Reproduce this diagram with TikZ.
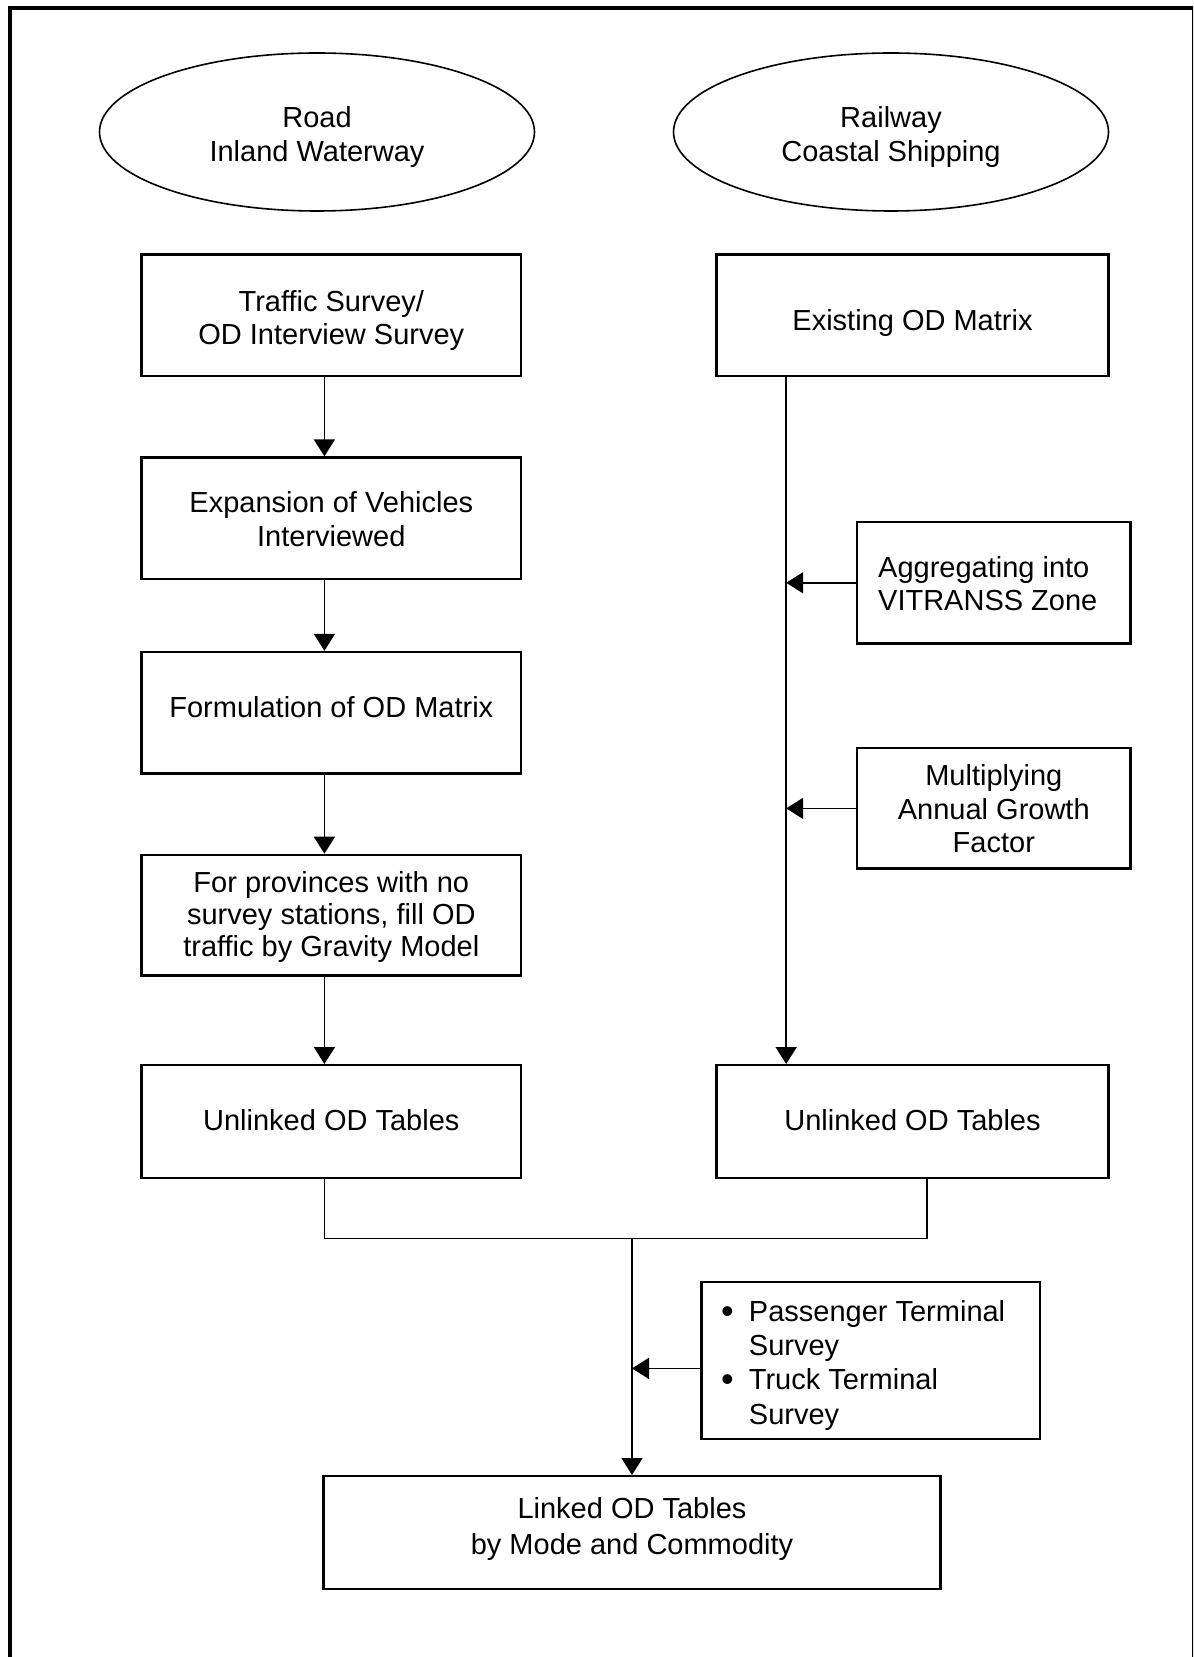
\documentclass[tikz,border=0pt]{standalone}
\usepackage{fontspec}
\setmainfont{Liberation Sans}
\usetikzlibrary{arrows.meta,shapes.geometric}
\newcommand\bigbul{\makebox[13.85pt][l]{\raisebox{-0.9pt}{\fontsize{18}{18}\selectfont\textbullet}}}
\begin{document}
\begin{tikzpicture}[x=0.5pt,y=-0.5pt,
  every node/.style={font=\fontsize{14.5}{16.8}\selectfont},
  flowbox/.style={draw, line width=1.2pt, rectangle, inner sep=0pt},
  txt/.style={inner sep=0pt, align=center},
  oval/.style={draw, line width=0.8pt, ellipse, inner sep=0pt,
    minimum width=217.5pt, minimum height=79pt},
  conn/.style={line width=0.9pt, -{Triangle[length=8.5pt,width=10.5pt]}},
  plain/.style={line width=0.9pt}
]
\useasboundingbox (0,0) rectangle (1193,1657);
\clip (0,0) rectangle (1193,1657);
% outer frame (cropped on right and bottom)
\draw[line width=2pt] (10,8.5) rectangle (1194,1665);

% ellipses
\node[oval] (E1) at (317,132) {};
\node[txt, yshift=-2.4pt] (E1t) at (E1) {Road\\Inland Waterway};
\node[oval] (E2) at (891,132) {};
\node[txt, yshift=-2.4pt] (E2t) at (E2) {Railway\\Coastal Shipping};

% left column
\node[flowbox, minimum width=189.7pt, minimum height=60.75pt] (A) at (331.3,315.4) {};
\node[txt, yshift=-2.6pt] (At) at (A) {Traffic Survey/\\OD Interview Survey};
\node[flowbox, minimum width=189.7pt, minimum height=60.75pt] (C) at (331.3,518.3) {};
\node[txt, yshift=-0.5pt] (Ct) at (C) {Expansion of Vehicles\\Interviewed};
\node[flowbox, minimum width=189.7pt, minimum height=60.75pt] (D) at (331.3,712.8) {};
\node[txt, yshift=2.6pt] (Dt) at (D) {Formulation of OD Matrix};
\node[flowbox, minimum width=189.7pt, minimum height=60.2pt] (E) at (331.3,915.1) {};
\node[txt, yshift=-1pt, font=\fontsize{14.5}{15.9}\selectfont] (Et) at (E)
  {For provinces with no\\survey stations, fill OD\\traffic by Gravity Model};
\node[flowbox, minimum width=189.7pt, minimum height=56.5pt] (F) at (331.3,1121.7) {};
\node[txt, yshift=1pt] (Ft) at (F) {Unlinked OD Tables};

% right column
\node[flowbox, minimum width=196pt, minimum height=60.75pt] (B) at (912.5,315.4) {};
\node[txt, yshift=-3.7pt] (Bt) at (B) {Existing OD Matrix};
\node[flowbox, minimum width=196pt, minimum height=56.5pt] (G) at (912.5,1121.7) {};
\node[txt, yshift=1pt] (Gt) at (G) {Unlinked OD Tables};
\node[flowbox, minimum width=136.85pt, minimum height=60.75pt] (H) at (993.8,582.8) {};
\node[txt, align=left, anchor=west, xshift=11pt, yshift=-0.5pt] (Ht) at (H.west)
  {Aggregating into\\VITRANSS Zone};
\node[flowbox, minimum width=136.85pt, minimum height=60.2pt] (I) at (993.8,808.4) {};
\node[txt, yshift=-0.3pt] (It) at (I) {Multiplying\\Annual Growth\\Factor};

% bottom
\node[flowbox, minimum width=169.1pt, minimum height=78.7pt] (J) at (870.7,1360.5) {};
\node[txt, align=left, anchor=west, xshift=10.2pt, yshift=-2.4pt,
  font=\fontsize{14.5}{17.1}\selectfont] (Jt) at (J.west)
  {\bigbul Passenger Terminal\\
   \makebox[13.85pt][l]{}Survey\\
   \bigbul Truck Terminal\\
   \makebox[13.85pt][l]{}Survey};
\node[flowbox, minimum width=308.55pt, minimum height=56.5pt] (K) at (632,1532.7) {};
\node[txt, yshift=2.1pt, font=\fontsize{14.5}{18}\selectfont] (Kt) at (K)
  {Linked OD Tables\\by Mode and Commodity};

% guide coordinates
\coordinate (lx) at (324.4,0);
\coordinate (rx) at (786.2,0);
\coordinate (ml) at (324.4,1238.5);
\coordinate (mr) at (926.7,1238.5);
\coordinate (mm) at (632,1238.5);
\coordinate (jm) at (632,1368.4);

% left chain
\draw[conn] (A.south -| lx) -- (C.north -| lx);
\draw[conn] (C.south -| lx) -- (D.north -| lx);
\draw[conn] (D.south -| lx) -- (E.north -| lx);
\draw[conn] (E.south -| lx) -- (F.north -| lx);

% right chain
\draw[conn] (B.south -| rx) -- (G.north -| rx);
\draw[conn] (H.west) -- (H.west -| rx);
\draw[conn] (I.west) -- (I.west -| rx);

% merge
\draw[plain] (F.south -| ml) -- (ml) -- (mr) -- (G.south -| mr);
\draw[conn] (mm) -- (K.north);
\draw[conn] (J.west |- jm) -- (jm);
\end{tikzpicture}
\end{document}
